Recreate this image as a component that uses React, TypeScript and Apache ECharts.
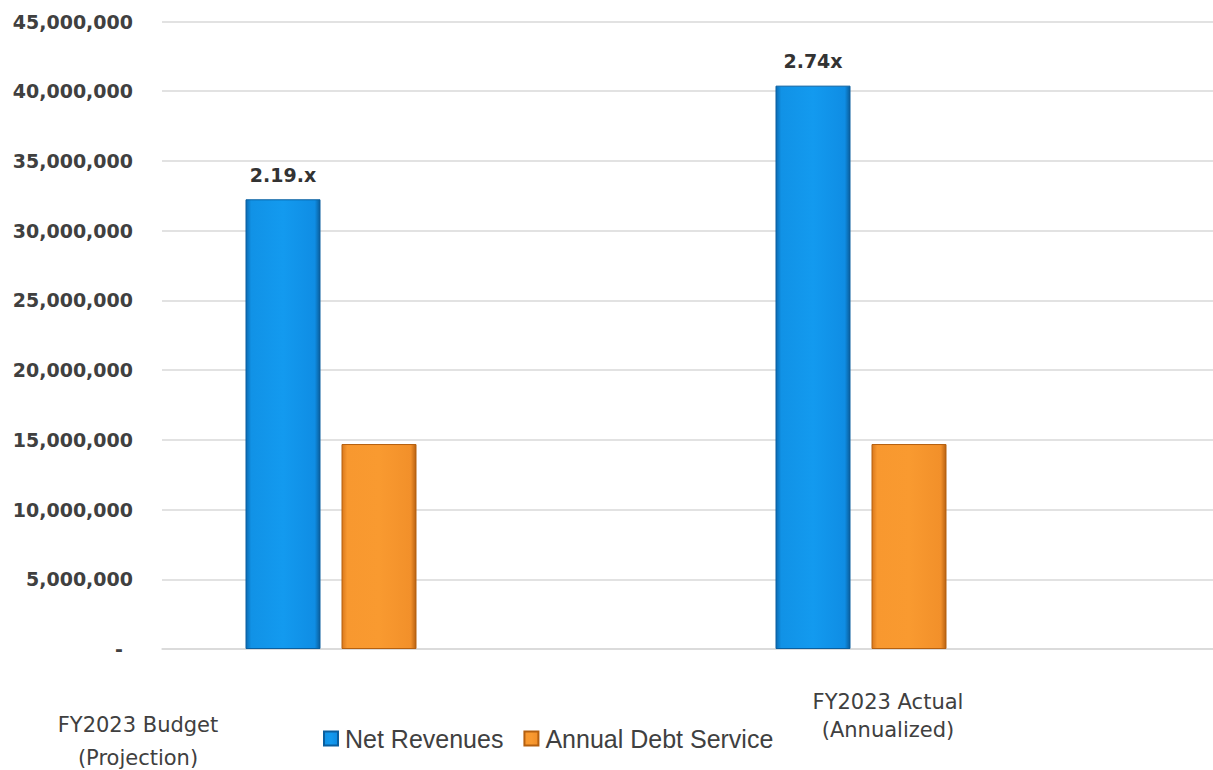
import React, { useEffect, useRef } from "react";
import * as echarts from "echarts";

const categories = ["FY2023 Budget\n(Projection)", "FY2023 Actual\n(Annualized)"];
const netRevenues = [32250000, 40400000];
const annualDebtService = [14700000, 14700000];
const coverageLabels = ["2.19.x", "2.74x"];
const seriesNames = ["Net Revenues", "Annual Debt Service"];
const yMin = 0;
const yMax = 45000000;
const yInterval = 5000000;

const FONT = "DejaVu Sans";

function blueGrad() {
  return new echarts.graphic.LinearGradient(0, 0, 1, 0, [
    { offset: 0, color: "#0b6cb3" },
    { offset: 0.07, color: "#1192e6" },
    { offset: 0.5, color: "#139aef" },
    { offset: 0.93, color: "#0f8de4" },
    { offset: 1, color: "#0a5e9c" },
  ]);
}
function orangeGrad() {
  return new echarts.graphic.LinearGradient(0, 0, 1, 0, [
    { offset: 0, color: "#d9781c" },
    { offset: 0.07, color: "#f8982f" },
    { offset: 0.5, color: "#f99a30" },
    { offset: 0.93, color: "#f2902a" },
    { offset: 1, color: "#b96212" },
  ]);
}

export default function App() {
  const ref = useRef<HTMLDivElement>(null);
  useEffect(() => {
    if (!ref.current) return;
    const chart = echarts.init(ref.current, null, { renderer: "svg" });
    const fmt = (v: number) =>
      v === 0 ? "{z|-}" : v.toLocaleString("en-US");
    chart.setOption({
      animation: false,
      backgroundColor: "#ffffff",
      grid: { left: 162, right: 0, top: 21.5, bottom: 121 },
      legend: {
        data: seriesNames,
        left: 323,
        top: 726,
        padding: 0,
        icon: "rect",
        itemWidth: 14,
        itemHeight: 14,
        itemGap: 20,
        textStyle: { fontFamily: "Liberation Sans", fontSize: 25, color: "#404040", padding: [0, 0, 0, 2] },
      },
      xAxis: {
        type: "category",
        data: categories,
        axisLine: { show: true, lineStyle: { color: "#d9d9d9", width: 1.5 } },
        axisTick: { show: false },
        axisLabel: { show: false },
      },
      yAxis: {
        type: "value",
        min: yMin,
        max: yMax,
        interval: yInterval,
        axisLine: { show: false },
        axisTick: { show: false },
        splitLine: { lineStyle: { color: "#d9d9d9", width: 1.5 } },
        axisLabel: {
          margin: 29,
          formatter: fmt,
          fontFamily: FONT,
          fontSize: 19,
          fontWeight: "bold",
          color: "#404040",
          rich: { z: { padding: [0, 10, 0, 0], fontFamily: FONT, fontSize: 19, fontWeight: "bold", color: "#404040" } },
        },
      },
      series: [
        {
          name: seriesNames[0],
          type: "bar",
          data: netRevenues,
          barWidth: 75,
          barGap: "28%",
          itemStyle: { color: blueGrad(), borderColor: "#0a5f9f", borderWidth: 1 },
          label: {
            show: true,
            position: "top",
            distance: 15,
            formatter: (p: any) => coverageLabels[p.dataIndex],
            fontFamily: FONT,
            fontSize: 19,
            fontWeight: "bold",
            color: "#333333",
          },
        },
        {
          name: seriesNames[1],
          type: "bar",
          data: annualDebtService,
          barWidth: 75,
          barGap: "28%",
          itemStyle: { color: orangeGrad(), borderColor: "#b5600f", borderWidth: 1 },
        },
        { name: "_spacer1", type: "bar", data: [null, null], barWidth: 75, barGap: "28%" },
        { name: "_spacer2", type: "bar", data: [null, null], barWidth: 75, barGap: "28%" },
      ],
      graphic: [
        {
          type: "text",
          x: 138,
          y: 741,
          style: {
            text: categories[0],
            textAlign: "center",
            textVerticalAlign: "middle",
            fontFamily: FONT,
            fontSize: 21,
            lineHeight: 33,
            fill: "#404040",
          },
        },
        {
          type: "text",
          x: 888,
          y: 716,
          style: {
            text: categories[1],
            textAlign: "center",
            textVerticalAlign: "middle",
            fontFamily: FONT,
            fontSize: 21,
            lineHeight: 28,
            fill: "#404040",
          },
        },
      ],
    });
    return () => chart.dispose();
  }, []);
  return (
    <div
      ref={ref}
      style={{ position: "fixed", left: 0, top: 0, width: 1222, height: 770 }}
    />
  );
}
